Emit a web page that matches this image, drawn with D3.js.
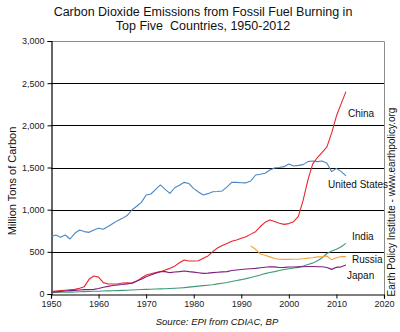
<!DOCTYPE html>
<html>
<head>
<meta charset="utf-8">
<script src="https://cdn.jsdelivr.net/npm/d3@7"></script>
<style>
  body { margin: 0; background: #fff; }
  svg { display: block; font-family: "Liberation Sans", Arial, sans-serif; }
</style>
</head>
<body>
<div id="chart"></div>
<script>
// Carbon emissions from fossil fuel burning, million tons of carbon

let years = d3.range(1950, 2013);

let usValues = [680, 700, 672, 700, 652, 720, 759, 740, 731, 760,
  779, 767, 800, 835, 870, 897, 930, 996, 1040, 1087,
  1174, 1186, 1240, 1293, 1240, 1194, 1260, 1290, 1324, 1310,
  1250, 1210, 1174, 1190, 1212, 1215, 1222, 1270, 1324, 1324,
  1320, 1318, 1340, 1411, 1420, 1431, 1470, 1495, 1500, 1510,
  1542, 1518, 1525, 1534, 1570, 1577, 1570, 1577, 1550, 1451,
  1490, 1451, 1400];

let chinaValues = [28, 35, 40, 45, 50, 55, 67, 87, 174, 213,
  200, 135, 119, 119, 119, 130, 134, 126, 150, 190,
  225, 240, 255, 265, 285, 304, 330, 370, 403, 391,
  391, 395, 423, 451, 502, 545, 575, 600, 625, 640,
  660, 680, 710, 739, 800, 850, 878, 860, 838, 826,
  835, 858, 920, 1110, 1350, 1540, 1618, 1680, 1745, 1910,
  2110, 2257, 2400];

let indiaValues = [18, 19, 20, 21, 22, 24, 26, 28, 30, 32,
  33, 35, 37, 38, 40, 43, 45, 47, 50, 53,
  55, 57, 59, 61, 63, 65, 68, 72, 76, 82,
  87, 93, 99, 104, 110, 120, 128, 137, 148, 160,
  170, 182, 196, 210, 225, 242, 255, 265, 278, 290,
  300, 308, 316, 332, 350, 366, 395, 430, 480, 510,
  530, 560, 600];

let japanValues = [20, 25, 30, 35, 40, 42, 47, 52, 52, 55,
  65, 80, 90, 100, 107, 112, 120, 130, 155, 174,
  205, 225, 245, 265, 265, 253, 260, 265, 273, 265,
  259, 252, 245, 248, 253, 258, 262, 265, 278, 285,
  290, 296, 300, 304, 312, 318, 324, 322, 314, 316,
  320, 320, 322, 324, 326, 326, 324, 324, 315, 292,
  316, 322, 344];

// Russia is only reported from 1992 on
let russiaYears = d3.range(1992, 2013);
let russiaValues = [569, 530, 475, 460, 440, 420, 412, 410, 411, 412,
  412, 418, 425, 430, 440, 440, 450, 405, 430, 445, 443];

let yTicks = [0, 500, 1000, 1500, 2000, 2500, 3000];
let xTicks = [1950, 1960, 1970, 1980, 1990, 2000, 2010, 2020];

let series = [
  {name: "United States", yrs: years, vals: usValues, color: "#4a87c2", lx: 328, ly: 188},
  {name: "China", yrs: years, vals: chinaValues, color: "#e8262c", lx: 348, ly: 117},
  {name: "India", yrs: years, vals: indiaValues, color: "#3e9a74", lx: 352, ly: 240},
  {name: "Russia", yrs: russiaYears, vals: russiaValues, color: "#f2a43a", lx: 352, ly: 263},
  {name: "Japan", yrs: years, vals: japanValues, color: "#7d1f7f", lx: 347, ly: 279}
];

let width = 400, height = 332;
let plotLeft = 51, plotRight = 384, plotTop = 41, plotBottom = 294;

let x = d3.scaleLinear().domain([1950, 2020]).range([plotLeft, plotRight]);
let y = d3.scaleLinear().domain([0, 3000]).range([plotBottom, plotTop]);

let svg = d3.select("#chart").append("svg")
  .attr("width", width)
  .attr("height", height);

// title
svg.append("text")
  .attr("x", 203).attr("y", 16)
  .attr("text-anchor", "middle")
  .attr("font-size", "12.5px")
  .attr("fill", "#111")
  .text("Carbon Dioxide Emissions from Fossil Fuel Burning in");
svg.append("text")
  .attr("x", 203).attr("y", 30)
  .attr("text-anchor", "middle")
  .attr("font-size", "12.5px")
  .attr("fill", "#111")
  .style("white-space", "pre")
  .text("Top Five  Countries, 1950-2012");

// plot border on top and right
svg.append("path")
  .attr("d", "M" + plotLeft + "," + (plotTop + 0.5) + "H" + (plotRight + 0.5) + "V" + plotBottom)
  .attr("fill", "none")
  .attr("stroke", "#8c8c8c")
  .attr("stroke-width", 1);

// gridlines
svg.append("g")
  .selectAll("line")
  .data(yTicks.filter(function(d) { return d > 0 && d < 3000; }))
  .enter()
  .append("line")
  .attr("x1", plotLeft).attr("x2", plotRight)
  .attr("y1", function(d) { return Math.round(y(d)) + 0.5; })
  .attr("y2", function(d) { return Math.round(y(d)) + 0.5; })
  .attr("stroke", "#000")
  .attr("stroke-width", 1.1);

// axes
let yAxis = svg.append("g")
  .attr("transform", "translate(" + (plotLeft + 0.5) + ",0)")
  .call(d3.axisLeft(y).tickValues(yTicks).tickSize(4).tickPadding(3)
    .tickFormat(d3.format(",")));
let xAxis = svg.append("g")
  .attr("transform", "translate(0," + (plotBottom + 0.5) + ")")
  .call(d3.axisBottom(x).tickValues(xTicks).tickSize(4).tickPadding(2)
    .tickFormat(d3.format("d")));

[yAxis, xAxis].forEach(function(a) {
  a.select(".domain").attr("stroke", "#000").attr("stroke-width", 1.2);
  a.selectAll(".tick line").attr("stroke", "#000");
  a.selectAll(".tick text")
    .attr("font-family", "\"Liberation Sans\", Arial, sans-serif")
    .attr("font-size", "9px")
    .attr("fill", "#222");
});

// y axis title
svg.append("text")
  .attr("transform", "translate(16,181) rotate(-90)")
  .attr("text-anchor", "middle")
  .attr("font-size", "11px")
  .attr("fill", "#111")
  .text("Million Tons of Carbon");

// series lines
let line = d3.line()
  .x(function(d) { return x(d[0]); })
  .y(function(d) { return y(d[1]); });

svg.append("g")
  .selectAll("path")
  .data(series)
  .enter()
  .append("path")
  .attr("d", function(s) { return line(d3.zip(s.yrs, s.vals)); })
  .attr("fill", "none")
  .attr("stroke", function(s) { return s.color; })
  .attr("stroke-width", 1.1)
  .attr("stroke-linejoin", "round");

// series labels
svg.append("g")
  .selectAll("text")
  .data(series)
  .enter()
  .append("text")
  .attr("x", function(s) { return s.lx; })
  .attr("y", function(s) { return s.ly; })
  .attr("font-size", "10px")
  .attr("fill", "#111")
  .text(function(s) { return s.name; });

// source note
svg.append("text")
  .attr("x", 217).attr("y", 325)
  .attr("text-anchor", "middle")
  .attr("font-size", "9.5px")
  .attr("font-style", "italic")
  .attr("fill", "#111")
  .text("Source: EPI from CDIAC, BP");

// side credit
svg.append("text")
  .attr("transform", "translate(395,202) rotate(-90)")
  .attr("text-anchor", "middle")
  .attr("font-size", "10px")
  .attr("fill", "#111")
  .text("Earth Policy Institute - www.earthpolicy.org");
</script>
</body>
</html>
